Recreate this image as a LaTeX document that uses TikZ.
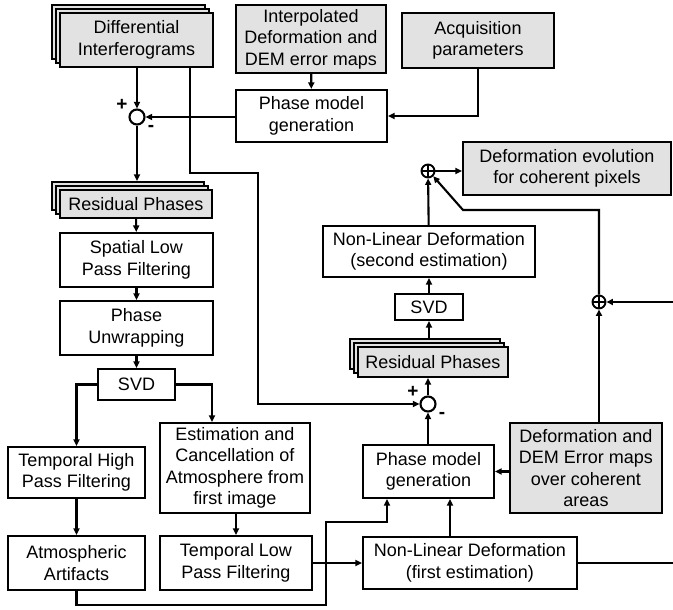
\documentclass[tikz,border=0pt]{standalone}
\usepackage{fontspec}
\setmainfont{Liberation Sans}
\usetikzlibrary{arrows.meta,shadows}
\definecolor{boxgray}{RGB}{226,226,226}

\begin{document}
\begin{tikzpicture}[x=1pt, y=-1pt, line width=2.1pt,
    every node/.style={font=\fontsize{18}{21.5}\selectfont, align=center, inner sep=0pt},
    box/.style 2 args={draw, fill=white, minimum width=#1pt, minimum height=#2pt},
    grey/.style={fill=boxgray},
    stack/.style={fill=boxgray, double copy shadow={shadow xshift=-4pt, shadow yshift=4pt,
        fill=boxgray, draw=black, line width=1.8pt}},
    sumc/.style={circle, draw, fill=white, minimum size=15pt},
    oplus/.style={circle, draw, fill=white, minimum size=13pt, line width=1.9pt,
      path picture={\draw[line width=1.6pt]
        (path picture bounding box.north) -- (path picture bounding box.south)
        (path picture bounding box.west) -- (path picture bounding box.east);}},
    sign/.style={font=\fontsize{19}{19}\selectfont\bfseries},
    arr/.style={-{Triangle[length=6.5pt, width=6pt]}}
  ]
  \useasboundingbox (0,0) rectangle (673,610);

  % top row
  \node[box={153}{54}, stack] (diff) at (136.5,40) {Differential\\Interferograms};
  \node[box={150}{68}, grey] (interp) at (311,39) {Interpolated\\Deformation and\\DEM error maps};
  \node[box={152}{55}, grey] (acq) at (478,40.5) {Acquisition\\parameters};
  \node[box={151}{52}] (pmg1) at (311.5,116) {Phase model\\generation};
  \node[sumc] (sum1) at (137,117) {};

  % first pass, left column
  \node[box={152}{28}, stack] (res1) at (136,204) {Residual Phases};
  \node[box={153}{54}] (slp) at (136.5,260) {Spatial Low\\Pass Filtering};
  \node[box={153}{54}] (unwrap) at (136.5,328) {Phase\\Unwrapping};
  \node[box={77}{31}] (svd1) at (136.5,384.5) {SVD};
  \node[box={137}{51}] (thp) at (76.5,472.5) {Temporal High\\Pass Filtering};
  \node[box={137}{54}] (art) at (76.5,563) {Atmospheric\\Artifacts};
  \node[box={150}{90}] (est) at (235,468) {Estimation and\\Cancellation of\\Atmosphere from\\first image};
  \node[box={152}{54}] (tlp) at (236,563) {Temporal Low\\Pass Filtering};

  % second pass, right column
  \node[box={214}{52}] (nld1) at (470,563) {Non-Linear Deformation\\(first estimation)};
  \node[box={131}{53}] (pmg2) at (428.5,471.5) {Phase model\\generation};
  \node[box={152}{90}, grey] (demaps) at (586,468) {Deformation and\\DEM Error maps\\over coherent\\areas};
  \node[sumc] (sum2) at (428,404) {};
  \node[box={150}{30}, stack] (res2) at (433,362) {Residual Phases};
  \node[box={68}{26}] (svd2) at (429,307) {SVD};
  \node[box={212}{51}] (nld2) at (429,251.5) {Non-Linear Deformation\\(second estimation)};
  \node[oplus] (plus1) at (428,171) {};
  \node[box={208}{53}, grey] (evol) at (567,168.5) {Deformation evolution\\for coherent pixels};
  \node[oplus] (plus2) at (599,302) {};
  \coordinate (edgelow) at (673,563);
  \coordinate (edgehigh) at (673,302);

  % signs on the two subtractors
  \foreach \s in {sum1,sum2}{
    \node[sign] (\s-p) at ([shift={(-15,-12)}]\s) {+};
    \node[sign] (\s-m) at ([shift={(14,11)}]\s) {-};
  }

  % connectors
  \draw[arr] (diff.south -| sum1) -- (sum1.north);
  \draw[arr] (interp) -- (pmg1);
  \draw[arr] (acq.south) |- (pmg1.east);
  \draw[arr] (pmg1.west |- sum1) -- (sum1.east);
  \draw[arr] (sum1.south) -- ([yshift=8pt]res1.north -| sum1);
  \draw[arr] (res1) -- (slp);
  \draw[arr] (slp) -- (unwrap);
  \draw[arr] (unwrap) -- (svd1);
  \draw[arr] (svd1.west) -| (thp.north);
  \draw[arr] (svd1.east) -| ([xshift=-23pt]est.north);
  \draw[arr] (thp) -- (art);
  \draw[arr] (est.south -| tlp) -- (tlp.north);
  \draw[arr] (art.south) -- ++(0,14) -| (326,522) -| ([xshift=-41.5pt]pmg2.south);
  \draw[arr] (tlp) -- (nld1);
  \draw[arr] ([xshift=-20pt]nld1.north) -- ([xshift=-20pt]nld1.north |- pmg2.south);
  \draw (nld1.east) -- (edgelow);
  \draw[arr] (demaps.west |- pmg2) -- (pmg2.east);
  \draw[arr] (pmg2.north -| sum2) -- (sum2.south);
  \draw[arr] ([xshift=53.5pt]diff.south) |- (258,173) |- (sum2.west);
  \draw[arr] (sum2.north) -- (sum2.north |- res2.south);
  \draw[arr] ([yshift=8pt]res2.north -| svd2) -- (svd2.south);
  \draw[arr] (svd2) -- (nld2);
  \draw[arr] (nld2) -- (plus1);
  \draw[arr] (plus1.east) -- (plus1.east -| evol.west);
  \draw[arr] (plus2.north) |- (463,210) -- (plus1.south east);
  \draw[arr] (plus2.south |- demaps.north) -- (plus2.south);
  \draw[arr] (edgehigh) -- (plus2.east);
\end{tikzpicture}
\end{document}
